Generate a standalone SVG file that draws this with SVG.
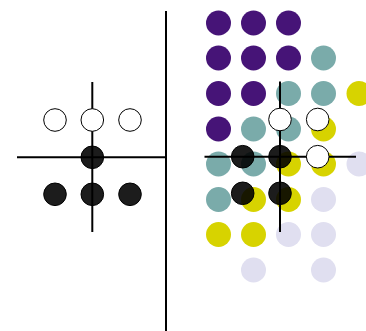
<svg xmlns="http://www.w3.org/2000/svg" width="366" height="331" viewBox="0 0 366 331">
<style>
.p{fill:#461477}.t{fill:#7aabaa}.y{fill:#d7d300}.l{fill:#e0dff0}
.b{fill:#000;fill-opacity:0.89;stroke:#000;stroke-width:1}
.w{fill:#fff;stroke:#000;stroke-width:1}
.ax{stroke:#000;stroke-width:2;fill:none}
</style>
<rect width="366" height="331" fill="#fff"/>
<g id="grid">
<circle class="p" cx="218.5" cy="23" r="12.5"/><circle class="p" cx="253.5" cy="23" r="12.5"/><circle class="p" cx="288.5" cy="23" r="12.5"/>
<circle class="p" cx="218.5" cy="58" r="12.5"/><circle class="p" cx="253.5" cy="58" r="12.5"/><circle class="p" cx="288.5" cy="58" r="12.5"/><circle class="t" cx="323.5" cy="58" r="12.5"/>
<circle class="p" cx="218.5" cy="93.5" r="12.5"/><circle class="p" cx="253.5" cy="93.5" r="12.5"/><circle class="t" cx="288.5" cy="93.5" r="12.5"/><circle class="t" cx="323.5" cy="93.5" r="12.5"/><circle class="y" cx="359" cy="93.5" r="12.5"/>
<circle class="p" cx="218.5" cy="129" r="12.5"/><circle class="t" cx="253.5" cy="129" r="12.5"/><circle class="t" cx="288.5" cy="129" r="12.5"/><circle class="y" cx="323.5" cy="129" r="12.5"/>
<circle class="t" cx="218.5" cy="164" r="12.5"/><circle class="t" cx="253.5" cy="164" r="12.5"/><circle class="y" cx="288.5" cy="164" r="12.5"/><circle class="y" cx="323.5" cy="164" r="12.5"/><circle class="l" cx="359" cy="164" r="12.5"/>
<circle class="t" cx="218.5" cy="199.5" r="12.5"/><circle class="y" cx="253.5" cy="199.5" r="12.5"/><circle class="y" cx="288.5" cy="199.5" r="12.5"/><circle class="l" cx="323.5" cy="199.5" r="12.5"/>
<circle class="y" cx="218.5" cy="234.5" r="12.5"/><circle class="y" cx="253.5" cy="234.5" r="12.5"/><circle class="l" cx="288.5" cy="234.5" r="12.5"/><circle class="l" cx="323.5" cy="234.5" r="12.5"/>
<circle class="l" cx="253.5" cy="270" r="12.5"/><circle class="l" cx="323.5" cy="270" r="12.5"/>
</g>
<g id="connectors">
<line class="ax" x1="166" y1="11" x2="166" y2="331"/>
<line class="ax" x1="92.3" y1="82" x2="92.3" y2="232"/>
<line class="ax" x1="17" y1="157.3" x2="167" y2="157.3"/>
<line class="ax" x1="280" y1="81.5" x2="280" y2="232"/>
<line class="ax" x1="204.5" y1="156.7" x2="356" y2="156.7"/>
</g>
<g id="left">
<circle class="w" cx="55" cy="120" r="11.3"/><circle class="w" cx="92.3" cy="120" r="11.3"/><circle class="w" cx="130" cy="120" r="11.3"/>
<circle class="b" cx="92.3" cy="157.3" r="11.3"/>
<circle class="b" cx="55" cy="194.3" r="11.3"/><circle class="b" cx="92.3" cy="194.3" r="11.3"/><circle class="b" cx="130" cy="194.3" r="11.3"/>
</g>
<g id="right">
<circle class="w" cx="280" cy="119.5" r="11.3"/><circle class="w" cx="317.7" cy="119.5" r="11.3"/>
<circle class="b" cx="242.7" cy="156.7" r="11.3"/><circle class="b" cx="280" cy="156.7" r="11.3"/><circle class="w" cx="317.7" cy="156.7" r="11.3"/>
<circle class="b" cx="242.7" cy="193.3" r="11.3"/><circle class="b" cx="280" cy="193.3" r="11.3"/>
</g>
</svg>
